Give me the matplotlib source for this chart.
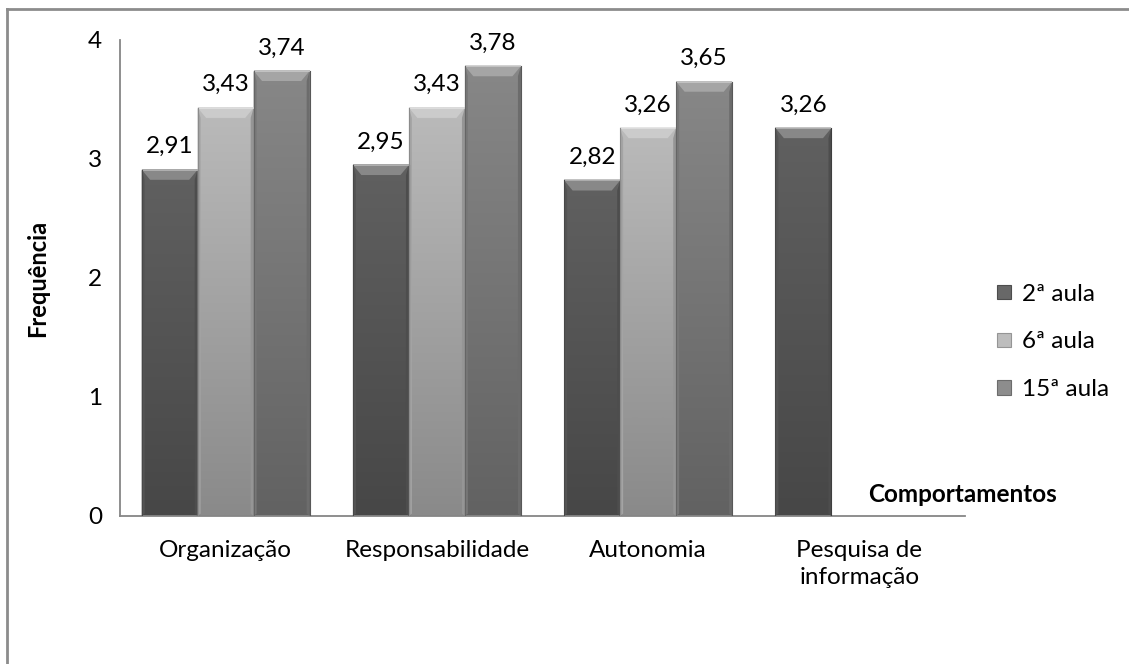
import matplotlib
matplotlib.use('Agg')
import matplotlib.pyplot as plt
import numpy as np
from matplotlib.patches import Polygon
from matplotlib.lines import Line2D
from matplotlib.colors import to_rgb

plt.rcParams['font.family'] = ['Lato', 'DejaVu Sans']

categories = ['Organização', 'Responsabilidade', 'Autonomia', 'Pesquisa de\ninformação']
series = ['2ª aula', '6ª aula', '15ª aula']
aula2 = [2.91, 2.95, 2.82, 3.26]
aula6 = [3.43, 3.43, 3.26, None]
aula15 = [3.74, 3.78, 3.65, None]

# (top colour, bottom colour) for each series
shades = [('#606060', '#474747'), ('#bababa', '#8a8a8a'), ('#878787', '#626262')]

bar_w = 0.265
bevel_h = 0.085
bevel_w = 0.04
fs = 17.5


def lighten(c, amt):
    r, g, b = to_rgb(c)
    return (r + (1 - r) * amt, g + (1 - g) * amt, b + (1 - b) * amt)


def darken(c, amt):
    r, g, b = to_rgb(c)
    return (r * (1 - amt), g * (1 - amt), b * (1 - amt))


def draw_bar(ax, x, h, top, bottom):
    x0, x1 = x - bar_w / 2, x + bar_w / 2
    # vertical gradient, darker towards the base
    ct, cb = np.array(to_rgb(top)), np.array(to_rgb(bottom))
    t = np.linspace(0, 1, 64)[:, None]
    grad = (cb * (1 - t) + ct * t)[:, None, :]
    ax.imshow(grad, extent=(x0, x1, 0, h), origin='lower', aspect='auto',
              interpolation='bilinear', zorder=2)
    # bevel on top and sides
    ax.add_patch(Polygon([(x0, h), (x1, h), (x1 - bevel_w, h - bevel_h), (x0 + bevel_w, h - bevel_h)],
                         closed=True, facecolor=lighten(top, 0.25), edgecolor='none', zorder=3))
    ax.add_patch(Polygon([(x0, h), (x0 + bevel_w * 0.35, h - bevel_h), (x0 + bevel_w * 0.35, 0.02), (x0, 0)],
                         closed=True, facecolor=darken(top, 0.12), edgecolor='none', zorder=3))
    ax.add_patch(Polygon([(x1, h), (x1 - bevel_w * 0.35, h - bevel_h), (x1 - bevel_w * 0.35, 0.02), (x1, 0)],
                         closed=True, facecolor=darken(top, 0.2), edgecolor='none', zorder=3))
    ax.plot([x0, x1], [h, h], color=lighten(top, 0.55), lw=1.2, zorder=4, solid_capstyle='butt')
    ax.plot([x0, x0], [0, h], color=darken(top, 0.25), lw=0.8, zorder=4)
    ax.plot([x1, x1], [0, h], color=darken(top, 0.35), lw=0.8, zorder=4)


fig = plt.figure(figsize=(11.29, 6.64), dpi=100)
ax = fig.add_axes([0.1063, 0.2229, 0.7485, 0.7169])

xs = np.arange(len(categories))
offsets = [-bar_w, 0, bar_w]
for vals, off, (top, bottom) in zip([aula2, aula6, aula15], offsets, shades):
    for x, v in zip(xs, vals):
        if v is None:
            continue
        draw_bar(ax, x + off, v, top, bottom)
        ax.annotate(f'{v:.2f}'.replace('.', ','), (x + off, v), xytext=(0, 9),
                    textcoords='offset points', ha='center', va='bottom', fontsize=fs)

ax.set_xlim(-0.5, len(categories) - 0.5)
ax.set_ylim(0, 4)
ax.set_yticks([0, 1, 2, 3, 4])
ax.set_xticks(xs)
ax.set_xticklabels(categories, fontsize=fs, linespacing=1.4)
ax.tick_params(axis='y', length=0, pad=13, labelsize=fs)
ax.tick_params(axis='x', length=0, pad=17)
for s in ['top', 'right']:
    ax.spines[s].set_visible(False)
for s in ['left', 'bottom']:
    ax.spines[s].set_color('#868686')
    ax.spines[s].set_linewidth(1.3)
ax.spines['left'].set_zorder(1)

ax.set_ylabel('Frequência', fontsize=17, fontweight='bold', labelpad=28)
fig.text(0.936, 0.256, 'Comportamentos', ha='right', va='center', fontsize=17.5, fontweight='bold')

handles = [plt.Rectangle((0, 0), 1, 1, facecolor=lighten(s[0], 0.05), edgecolor=darken(s[0], 0.2), lw=0.8)
           for s in shades]
fig.legend(handles, series, loc='center left', bbox_to_anchor=(0.864, 0.485), frameon=False,
           fontsize=fs, handlelength=0.55, handleheight=0.55, handletextpad=0.45, labelspacing=1.1)

# outer frame
fig.add_artist(Line2D([0.0062, 0.0062], [0, 0.986], transform=fig.transFigure, color='#8c8c8c', lw=2))
fig.add_artist(Line2D([0.0062, 1.0], [0.986, 0.986], transform=fig.transFigure, color='#8c8c8c', lw=2))

fig.savefig('out.png', dpi=100)
